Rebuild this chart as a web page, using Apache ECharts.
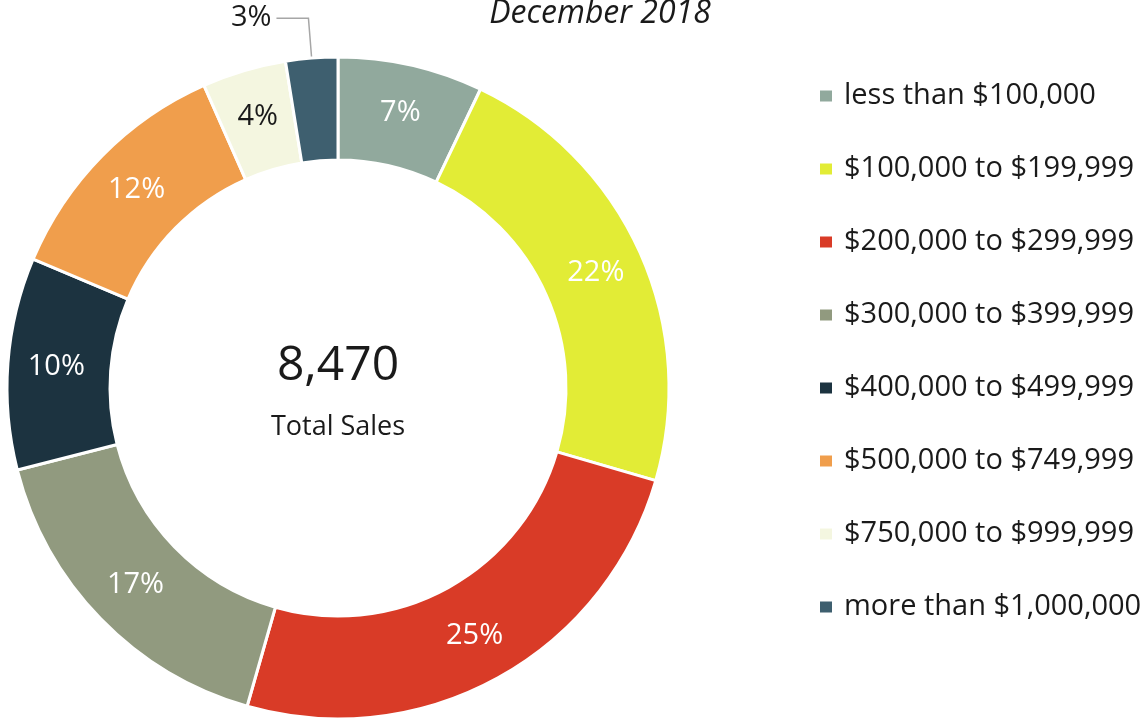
<!DOCTYPE html>
<html>
<head>
<meta charset="utf-8">
<script src="https://cdn.jsdelivr.net/npm/echarts@6/dist/echarts.min.js"></script>
<style>
  html, body { margin: 0; padding: 0; background: #fff; }
  #chart { width: 1147px; height: 721px; }
</style>
</head>
<body>
<div id="chart"></div>
<script>
const categories = [
  'less than $100,000',
  '$100,000 to $199,999',
  '$200,000 to $299,999',
  '$300,000 to $399,999',
  '$400,000 to $499,999',
  '$500,000 to $749,999',
  '$750,000 to $999,999',
  'more than $1,000,000',
]
const sales = [600, 1900, 2110, 1405, 877, 1016, 347, 215]
const colors = ['#91a99d', '#e2ec36', '#d93b27', '#919a7f', '#1c3340', '#f09e4c', '#f4f6e0', '#3e5f6f']
const labelColors = ['#fff', '#fff', '#fff', '#fff', '#fff', '#fff', '#1a1a1a', '#1a1a1a']

const total = sales.reduce((a, b) => a + b, 0)
const FONT = '"Open Sans", sans-serif'

const data = categories.map((name, i) => {
  const item = { name, value: sales[i], label: { color: labelColors[i] } }
  // smallest slice gets its label outside with a leader line
  if (i === categories.length - 1) {
    item.label.position = 'outside'
    item.labelLine = { show: true, length: 40, length2: 32, lineStyle: { color: '#a6a6a6', width: 1.5 } }
  }
  return item
})

const chart = echarts.init(document.getElementById('chart'))
chart.setOption({
  animation: false,
  color: colors,
  title: {
    text: 'December 2018',
    left: 600,
    top: -2,
    textAlign: 'center',
    padding: 0,
    textStyle: { fontFamily: FONT, fontStyle: 'italic', fontWeight: 'normal', fontSize: 32, color: '#1a1a1a' },
  },
  legend: {
    orient: 'vertical',
    left: 818,
    top: 79,
    padding: 0,
    icon: 'rect',
    itemWidth: 14,
    itemHeight: 13,
    itemGap: 39,
    textStyle: { fontFamily: FONT, fontSize: 29, color: '#1a1a1a', lineHeight: 34, padding: [0, 0, 0, 6] },
    data: categories,
  },
  graphic: [
    {
      type: 'text',
      x: 338,
      y: 366,
      style: { text: total.toLocaleString('en-US'), font: `48px ${FONT}`, fill: '#1a1a1a', textAlign: 'center', textVerticalAlign: 'middle' },
    },
    {
      type: 'text',
      x: 338,
      y: 427,
      style: { text: 'Total Sales', font: `27px ${FONT}`, fill: '#1a1a1a', textAlign: 'center', textVerticalAlign: 'middle' },
    },
  ],
  series: [{
    type: 'pie',
    center: [338, 388],
    radius: [228, 331],
    startAngle: 90,
    clockwise: true,
    percentPrecision: 0,
    avoidLabelOverlap: false,
    itemStyle: { borderColor: '#fff', borderWidth: 3 },
    label: {
      show: true,
      position: 'inside',
      formatter: '{d}%',
      fontFamily: FONT,
      fontSize: 29,
    },
    labelLine: { show: false },
    emphasis: { disabled: true },
    data,
  }],
})
</script>
</body>
</html>
